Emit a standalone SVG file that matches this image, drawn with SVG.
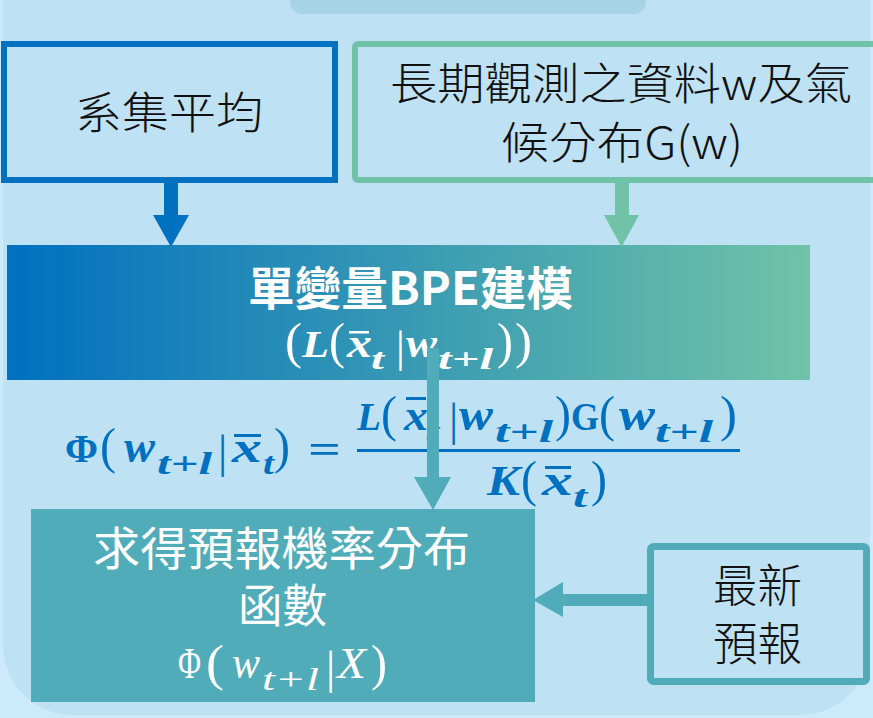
<svg xmlns="http://www.w3.org/2000/svg" width="873" height="718" viewBox="0 0 873 718">
<defs>
<linearGradient id="gBPE" x1="0" y1="0" x2="1" y2="0">
<stop offset="0" stop-color="#0070C0"/>
<stop offset="1" stop-color="#70C3A7"/>
</linearGradient>
<style>
.cjk{font-family:"Noto Sans CJK TC","Noto Sans CJK SC",sans-serif;}
.blk{fill:#111;font-weight:300;}
.wht{fill:#fff;}
.m{font-family:"Liberation Serif","DejaVu Serif",serif;}
.bi{font-weight:bold;font-style:italic;}
.b{font-weight:bold;}
.i{font-style:italic;}
.blue{fill:#0070C0;}
</style>
</defs>
<rect x="0" y="0" width="873" height="718" fill="#CDEAFA"/>
<rect x="3" y="-80" width="867" height="795" rx="70" fill="#BEE1F4"/>
<rect x="290" y="-12" width="356" height="26" rx="12" fill="#A7D4E4"/>

<g id="node-ensemble">
<rect x="4" y="44" width="331" height="136" fill="none" stroke="#0070C0" stroke-width="6"/>
<text class="cjk blk" x="75" y="129" font-size="44" textLength="188" lengthAdjust="spacingAndGlyphs">系集平均</text>
</g>

<g id="node-climate">
<rect x="355" y="44" width="530" height="136" rx="3" fill="none" stroke="#70C3A7" stroke-width="6"/>
<text class="cjk blk" x="390" y="100" font-size="44" textLength="462" lengthAdjust="spacingAndGlyphs">長期觀測之資料w及氣</text>
<text class="cjk blk" x="501" y="159" font-size="44" textLength="242" lengthAdjust="spacingAndGlyphs">候分布G(w)</text>
</g>

<g id="node-bpe">
<rect x="7" y="245" width="803" height="135" fill="url(#gBPE)"/>
<text class="cjk wht" x="248" y="305" font-size="46" font-weight="bold" textLength="325" lengthAdjust="spacingAndGlyphs">單變量BPE建模</text>
<g class="m wht">
<text x="285" y="358" font-size="50" textLength="17" lengthAdjust="spacingAndGlyphs">(</text>
<text class="bi" x="302" y="357" font-size="37" textLength="27" lengthAdjust="spacingAndGlyphs">L</text>
<text x="329" y="358" font-size="50" textLength="16" lengthAdjust="spacingAndGlyphs">(</text>
<text class="bi" x="347" y="357" font-size="42" textLength="25" lengthAdjust="spacingAndGlyphs">x</text>
<text class="bi" x="371" y="369" font-size="30" textLength="13" lengthAdjust="spacingAndGlyphs">t</text>
<text x="396" y="362" font-size="44">|</text>
<text class="bi" x="406" y="357" font-size="42" textLength="31" lengthAdjust="spacingAndGlyphs">w</text>
<text class="bi" x="438" y="369" font-size="30" textLength="55" lengthAdjust="spacingAndGlyphs">t+l</text>
<text x="497" y="358" font-size="50" textLength="16" lengthAdjust="spacingAndGlyphs">)</text>
<text x="515" y="358" font-size="50" textLength="17" lengthAdjust="spacingAndGlyphs">)</text>
</g>
<rect x="349" y="331" width="20" height="2.5" fill="#fff"/>
</g>

<g id="formula" class="m blue">
<text class="b" x="65" y="462" font-size="41" textLength="33" lengthAdjust="spacingAndGlyphs">Φ</text>
<text x="100" y="463" font-size="50" textLength="16" lengthAdjust="spacingAndGlyphs">(</text>
<text class="bi" x="124" y="462" font-size="46" textLength="31" lengthAdjust="spacingAndGlyphs">w</text>
<text class="bi" x="157" y="474" font-size="31" textLength="55" lengthAdjust="spacingAndGlyphs">t+l</text>
<text x="218" y="467" font-size="46">|</text>
<text class="bi" x="232" y="462" font-size="44" textLength="30" lengthAdjust="spacingAndGlyphs">x</text>
<rect x="234" y="434" width="27" height="3" fill="#0070C0"/>
<text class="bi" x="263" y="474" font-size="31" textLength="11" lengthAdjust="spacingAndGlyphs">t</text>
<text x="274" y="463" font-size="50" textLength="16" lengthAdjust="spacingAndGlyphs">)</text>
<text class="b" x="308" y="463" font-size="40" textLength="33" lengthAdjust="spacingAndGlyphs">=</text>

<text class="bi" x="357" y="430" font-size="41" textLength="24" lengthAdjust="spacingAndGlyphs">L</text>
<text x="381" y="431" font-size="50" textLength="16" lengthAdjust="spacingAndGlyphs">(</text>
<text class="bi" x="404" y="430" font-size="44" textLength="24" lengthAdjust="spacingAndGlyphs">x</text>
<rect x="406" y="397" width="20" height="3" fill="#0070C0"/>
<text class="bi" x="425" y="442" font-size="31" textLength="14" lengthAdjust="spacingAndGlyphs">t</text>
<text x="449" y="435" font-size="46">|</text>
<text class="bi" x="459" y="430" font-size="46" textLength="34" lengthAdjust="spacingAndGlyphs">w</text>
<text class="bi" x="495" y="442" font-size="31" textLength="58" lengthAdjust="spacingAndGlyphs">t+l</text>
<text x="555" y="431" font-size="50" textLength="16" lengthAdjust="spacingAndGlyphs">)</text>
<text class="b" x="571" y="430" font-size="40" textLength="28" lengthAdjust="spacingAndGlyphs">G</text>
<text x="599" y="431" font-size="50" textLength="16" lengthAdjust="spacingAndGlyphs">(</text>
<text class="bi" x="619" y="430" font-size="46" textLength="36" lengthAdjust="spacingAndGlyphs">w</text>
<text class="bi" x="655" y="442" font-size="31" textLength="58" lengthAdjust="spacingAndGlyphs">t+l</text>
<text x="720" y="431" font-size="50" textLength="17" lengthAdjust="spacingAndGlyphs">)</text>
<rect x="357" y="449" width="383" height="3" fill="#0070C0"/>

<text class="bi" x="487" y="495" font-size="42" textLength="33" lengthAdjust="spacingAndGlyphs">K</text>
<text x="521" y="496" font-size="50" textLength="16" lengthAdjust="spacingAndGlyphs">(</text>
<text class="bi" x="542" y="495" font-size="44" textLength="31" lengthAdjust="spacingAndGlyphs">x</text>
<rect x="545" y="466" width="26" height="3" fill="#0070C0"/>
<text class="bi" x="573" y="507" font-size="31" textLength="14" lengthAdjust="spacingAndGlyphs">t</text>
<text x="591" y="496" font-size="50" textLength="16" lengthAdjust="spacingAndGlyphs">)</text>
</g>

<g id="node-result">
<rect x="31" y="509" width="504" height="193" fill="#51ACB9"/>
<text class="cjk wht" x="93" y="565" font-size="46" textLength="377" lengthAdjust="spacingAndGlyphs">求得預報機率分布</text>
<text class="cjk wht" x="238" y="622" font-size="46" textLength="89" lengthAdjust="spacingAndGlyphs">函數</text>
<g class="m wht">
<text x="178" y="678" font-size="44" textLength="23" lengthAdjust="spacingAndGlyphs">Φ</text>
<text x="206" y="680" font-size="50" textLength="18" lengthAdjust="spacingAndGlyphs">(</text>
<text class="i" x="232" y="678" font-size="46" textLength="28" lengthAdjust="spacingAndGlyphs">w</text>
<text class="i" x="262" y="690" font-size="31" textLength="57" lengthAdjust="spacingAndGlyphs">t+l</text>
<text x="326" y="683" font-size="46">|</text>
<text class="i" x="337" y="678" font-size="44" textLength="29" lengthAdjust="spacingAndGlyphs">X</text>
<text x="371" y="680" font-size="50" textLength="16" lengthAdjust="spacingAndGlyphs">)</text>
</g>
</g>

<g id="node-latest">
<rect x="650.5" y="546.5" width="216" height="135" rx="3" fill="none" stroke="#51ACB9" stroke-width="7"/>
<text class="cjk blk" x="713" y="602" font-size="46" textLength="89" lengthAdjust="spacingAndGlyphs">最新</text>
<text class="cjk blk" x="713" y="660" font-size="46" textLength="89" lengthAdjust="spacingAndGlyphs">預報</text>
</g>

<g id="connectors">
<rect x="164" y="183" width="14" height="33" fill="#0070C0"/>
<polygon points="153,215 189,215 171,247" fill="#0070C0"/>
<rect x="615" y="183" width="14" height="33" fill="#70C3A7"/>
<polygon points="604,215 639,215 621.5,247" fill="#70C3A7"/>
<rect x="427" y="348" width="12" height="131" fill="#51ACB9"/>
<polygon points="414,477 451,477 433,510" fill="#51ACB9"/>
<rect x="562" y="594" width="85" height="12" fill="#51ACB9"/>
<polygon points="563,582 563,617 533,600" fill="#51ACB9"/>
</g>
</svg>
